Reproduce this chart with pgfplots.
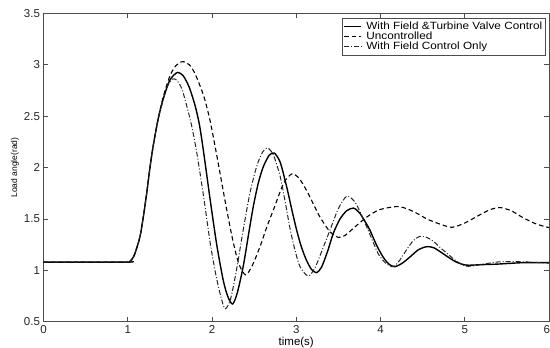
\documentclass[border=0pt]{standalone}
\usepackage{pgfplots}
\pgfplotsset{compat=1.18}
\usepackage{fontspec}
\setmainfont{Liberation Sans}
\newfontfamily\legfont[FakeStretch=1.12]{Liberation Sans}
\begin{document}
\begin{tikzpicture}
\begin{axis}[
  at={(0pt,0pt)}, anchor=south west,
  width=505.5pt, height=308.4pt, scale only axis,
  xmin=0, xmax=6, ymin=0.5, ymax=3.5,
  xtick={0,1,2,3,4,5,6}, ytick={0.5,1,1.5,2,2.5,3,3.5},
  xticklabels={0,1,2,3,4,5,\makebox[2pt][r]{6}},
  tick align=inside, tick pos=both, major tick length=5pt,
  axis line style={black!70, line width=0.7pt},
  every tick/.style={black!70, line width=0.6pt},
  /pgf/number format/assume math mode=true,
  ticklabel style={font=\fontsize{11.5}{12}\selectfont, text=black!85},
  xlabel={time(s)}, ylabel={Load angle(rad)},
  xlabel style={font=\fontsize{11.5}{12}\selectfont, at={(axis description cs:0.5,-0.0668)}, anchor=center},
  ylabel style={font=\fontsize{8.5}{9}\selectfont, at={(axis description cs:-0.0564,0.5)}, anchor=center},
  legend style={at={(axis description cs:1,1)}, anchor=north east, xshift=-3pt, yshift=-5pt,
    draw=black!70, line width=0.6pt, font=\legfont\fontsize{10.5}{10}\selectfont, inner sep=1.5pt,
    row sep=-3pt, /tikz/every odd column/.append style={column sep=2.5pt}},
  legend cell align=left,
]
\addplot[black, line width=1.4pt, smooth, tension=0.45] coordinates {
(0,1.08)(1.0,1.08)(1.03,1.09)(1.06,1.12)(1.086,1.165)(1.145,1.327)(1.185,1.52)(1.225,1.75)(1.264,2.0)(1.304,2.22)(1.363,2.48)(1.422,2.67)(1.50,2.85)(1.59,2.925)(1.66,2.89)(1.73,2.78)(1.80,2.60)(1.85,2.42)(1.897,2.17)(1.976,1.70)(2.056,1.25)(2.134,0.90)(2.19,0.74)(2.245,0.672)(2.30,0.78)(2.37,1.035)(2.43,1.33)(2.49,1.62)(2.55,1.85)(2.61,2.01)(2.68,2.12)(2.74,2.14)(2.81,2.05)(2.887,1.81)(2.95,1.58)(3.005,1.39)(3.06,1.23)(3.12,1.10)(3.18,1.01)(3.24,0.977)(3.30,1.03)(3.37,1.18)(3.44,1.36)(3.52,1.50)(3.60,1.58)(3.68,1.605)(3.75,1.56)(3.82,1.47)(3.875,1.39)(3.95,1.25)(4.03,1.13)(4.10,1.06)(4.17,1.035)(4.26,1.07)(4.35,1.13)(4.45,1.20)(4.55,1.23)(4.63,1.22)(4.71,1.18)(4.80,1.13)(4.90,1.08)(5.02,1.05)(5.20,1.055)(5.38,1.06)(5.69,1.074)(6.0,1.074)
};
\addlegendentry{With Field \&Turbine Valve Control}
\addplot[black, line width=1.1pt, dash pattern=on 4.5pt off 3pt, smooth, tension=0.45] coordinates {
(0,1.08)(1.0,1.08)(1.03,1.09)(1.06,1.12)(1.086,1.165)(1.145,1.327)(1.185,1.52)(1.225,1.75)(1.264,2.0)(1.304,2.22)(1.363,2.48)(1.422,2.69)(1.50,2.89)(1.57,2.99)(1.65,3.03)(1.73,3.00)(1.80,2.91)(1.90,2.70)(1.976,2.46)(2.056,2.12)(2.17,1.61)(2.25,1.28)(2.32,1.06)(2.40,0.955)(2.48,1.05)(2.57,1.23)(2.65,1.42)(2.73,1.59)(2.85,1.846)(2.946,1.937)(3.03,1.90)(3.12,1.78)(3.20,1.65)(3.28,1.52)(3.40,1.375)(3.50,1.32)(3.58,1.34)(3.68,1.41)(3.84,1.52)(3.99,1.59)(4.19,1.62)(4.31,1.60)(4.43,1.555)(4.55,1.50)(4.67,1.46)(4.845,1.418)(5.00,1.46)(5.18,1.54)(5.30,1.59)(5.42,1.61)(5.55,1.58)(5.695,1.51)(5.85,1.45)(6.0,1.415)
};
\addlegendentry{Uncontrolled}
\addplot[black!85, line width=1.0pt, dash pattern=on 5pt off 2pt on 1pt off 2pt, smooth, tension=0.45] coordinates {
(0,1.08)(1.0,1.08)(1.03,1.09)(1.06,1.12)(1.086,1.165)(1.145,1.327)(1.185,1.52)(1.225,1.75)(1.264,2.0)(1.304,2.22)(1.363,2.48)(1.422,2.66)(1.47,2.79)(1.53,2.86)(1.58,2.85)(1.64,2.77)(1.70,2.60)(1.76,2.40)(1.82,2.14)(1.90,1.72)(1.976,1.28)(2.04,0.98)(2.095,0.776)(2.154,0.625)(2.22,0.72)(2.29,1.0)(2.37,1.39)(2.45,1.75)(2.53,2.01)(2.60,2.15)(2.66,2.19)(2.73,2.12)(2.81,1.91)(2.87,1.66)(2.93,1.39)(2.99,1.18)(3.045,1.035)(3.14,0.944)(3.22,1.02)(3.30,1.18)(3.40,1.39)(3.50,1.60)(3.60,1.72)(3.70,1.66)(3.80,1.49)(3.89,1.32)(3.97,1.165)(4.06,1.07)(4.15,1.035)(4.23,1.10)(4.31,1.20)(4.39,1.29)(4.47,1.33)(4.55,1.32)(4.63,1.28)(4.71,1.22)(4.79,1.165)(4.90,1.09)(5.02,1.04)(5.15,1.05)(5.38,1.08)(5.62,1.085)(6.0,1.07)
};
\addlegendentry{With Field Control Only}
\end{axis}
\pgfresetboundingbox
\useasboundingbox (-43.5pt,-26.3pt) rectangle (506.5pt,321.7pt);
\end{tikzpicture}
\end{document}
